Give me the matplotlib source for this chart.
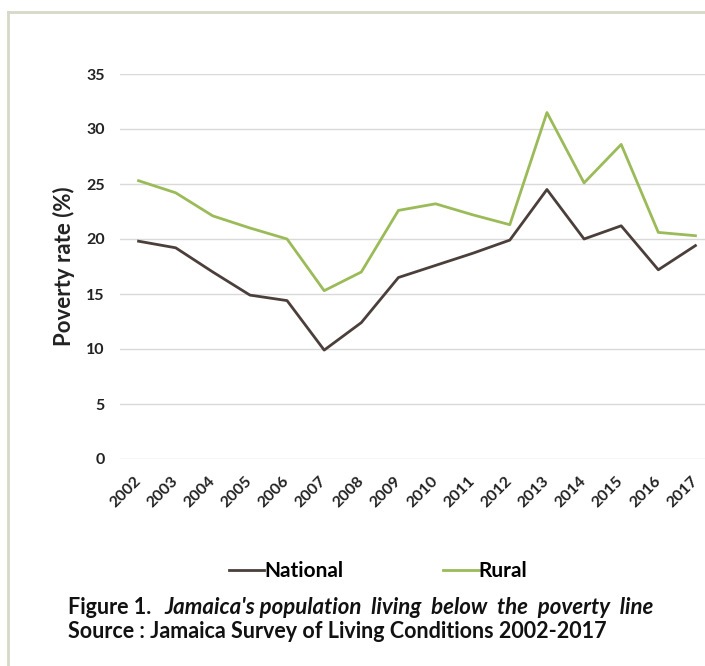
import matplotlib
matplotlib.use("Agg")
import matplotlib.pyplot as plt
from matplotlib.lines import Line2D

years = [str(y) for y in range(2002, 2018)]
national = [19.8, 19.2, 17.0, 14.9, 14.4, 9.9, 12.4, 16.5, 17.6, 18.7, 19.9, 24.5, 20.0, 21.2, 17.2, 19.4]
rural = [25.3, 24.2, 22.1, 21.0, 20.0, 15.3, 17.0, 22.6, 23.2, 22.2, 21.3, 31.5, 25.1, 28.6, 20.6, 20.3]
yticks = [0, 5, 10, 15, 20, 25, 30, 35]

plt.rcParams['font.family'] = ['Lato', 'DejaVu Sans']
plt.rcParams['font.weight'] = 'bold'

W, H = 705, 666
fig = plt.figure(figsize=(W / 100, H / 100), dpi=100)
fig.patch.set_facecolor('white')

# frame: only top and left edges show in the picture
fig.lines.append(Line2D([8 / W, 1], [1 - 12 / H, 1 - 12 / H], transform=fig.transFigure,
                        color='#d6d8c8', linewidth=2))
fig.lines.append(Line2D([8 / W, 8 / W], [0, 1 - 12 / H], transform=fig.transFigure,
                        color='#d6d8c8', linewidth=2))

ax = fig.add_axes([120 / W, 1 - 459 / H, 594 / W, 385 / H])
x = range(len(years))
ax.plot(x, national, color='#4b3f3b', linewidth=2, label='National')
ax.plot(x, rural, color='#9bbb59', linewidth=2, label='Rural')

ax.set_xlim(-0.5, len(years) - 0.5)
ax.set_ylim(0, 35)
ax.set_yticks(yticks)
ax.set_xticks(list(x))
ax.set_xticklabels(years, rotation=45, ha='right', va='center', rotation_mode='anchor')
ax.tick_params(axis='both', length=0, labelsize=11.5, colors='#222222')
ax.tick_params(axis='y', pad=11)
ax.tick_params(axis='x', pad=14)
ax.grid(axis='y', color='#d9d9d9', linewidth=1)
ax.set_axisbelow(True)
for s in ax.spines.values():
    s.set_visible(False)
ax.set_ylabel('Poverty rate (%)', fontsize=16, fontweight='bold', color='#222222', labelpad=8)

fig.legend(loc='center', bbox_to_anchor=(378 / W, 1 - 571 / H), ncol=2, frameon=False,
           fontsize=15, handlelength=1.7, handletextpad=0.0, columnspacing=4.8)

fig.text(68 / W, 1 - 607 / H, 'Figure 1.', fontsize=15.5, fontweight='bold', va='center', color='#111111')
fig.text(164 / W, 1 - 607 / H, "Jamaica's population  living  below  the  poverty  line",
         fontsize=16, fontweight='bold', style='italic', va='center', color='#111111')
fig.text(68 / W, 1 - 632 / H, 'Source : Jamaica Survey of Living Conditions 2002-2017',
         fontsize=15.5, fontweight='bold', va='center', color='#111111')

fig.savefig('out.png', dpi=100)
